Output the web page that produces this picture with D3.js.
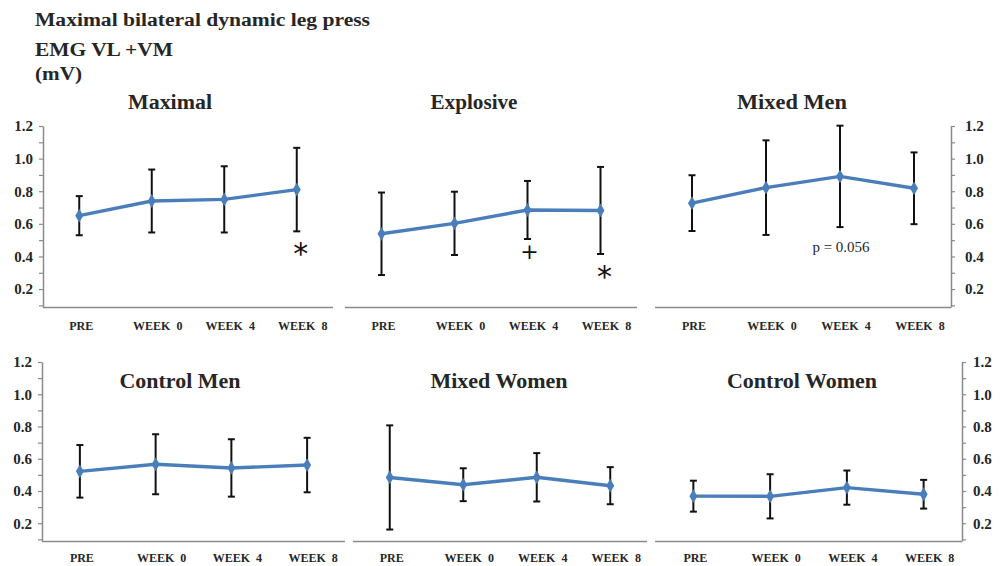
<!DOCTYPE html>
<html>
<head>
<meta charset="utf-8">
<script src="https://cdn.jsdelivr.net/npm/d3@7"></script>
<style>
  html, body { margin: 0; padding: 0; background: #fff; }
  svg { display: block; font-family: "Liberation Serif", "Times New Roman", serif; }
</style>
</head>
<body>
<svg id="chart" width="1000" height="566"></svg>
<script>
// ---------------- data ----------------
const categories = ["PRE", "WEEK  0", "WEEK  4", "WEEK  8"];
const headerLines = ["Maximal bilateral dynamic leg press", "EMG VL +VM", "(mV)"];
const panelTitles = ["Maximal", "Explosive", "Mixed Men", "Control Men", "Mixed Women", "Control Women"];
const yTickValues = [0.2, 0.4, 0.6, 0.8, 1.0, 1.2];
const yTickLabels = ["0.2", "0.4", "0.6", "0.8", "1.0", "1.2"];

const maximalMean = [0.65, 0.74, 0.75, 0.81];
const maximalSD = [0.12, 0.193, 0.203, 0.256];
const explosiveMean = [0.539, 0.603, 0.685, 0.682];
const explosiveSD = [0.253, 0.194, 0.178, 0.267];
const mixedMenMean = [0.727, 0.822, 0.891, 0.818];
const mixedMenSD = [0.171, 0.29, 0.311, 0.22];
const controlMenMean = [0.522, 0.566, 0.543, 0.561];
const controlMenSD = [0.163, 0.186, 0.178, 0.169];
const mixedWomenMean = [0.484, 0.439, 0.485, 0.433];
const mixedWomenSD = [0.323, 0.102, 0.15, 0.115];
const controlWomenMean = [0.368, 0.367, 0.421, 0.38];
const controlWomenSD = [0.096, 0.137, 0.106, 0.089];

// annotations: [panel index, category index, text]
const annotationPanels = [0, 1, 1, 2];
const annotationCats = [3, 2, 3, 2];
const annotationTexts = ["*", "+", "*", "p = 0.056"];

// ---------------- layout ----------------
const svg = d3.select("#chart");
const TXT = "#262626", AX = "#8a8a8a", BLUE = "#4a7ebb";

const rows = [
  { yTop: 126, yBot: 307, titleY: 109, labelY: 330 },
  { yTop: 362, yBot: 541, titleY: 388, labelY: 562 }
];
const panels = [
  { mean: maximalMean, sd: maximalSD, row: 0, x0: 43, x1: 333, axis: "left", axisX: 43, pad: 6, titleX: 170, titleW: 84 },
  { mean: explosiveMean, sd: explosiveSD, row: 0, x0: 345, x1: 637, axis: null, titleX: 474, titleW: 87 },
  { mean: mixedMenMean, sd: mixedMenSD, row: 0, x0: 655, x1: 951, axis: "right", axisX: 951, pad: 10, titleX: 792, titleW: 110 },
  { mean: controlMenMean, sd: controlMenSD, row: 1, x0: 42, x1: 345, axis: "left", axisX: 42, pad: 6, titleX: 180, titleW: 121 },
  { mean: mixedWomenMean, sd: mixedWomenSD, row: 1, x0: 353, x1: 647, axis: null, titleX: 499, titleW: 137 },
  { mean: controlWomenMean, sd: controlWomenSD, row: 1, x0: 655, x1: 962, axis: "right", axisX: 962, pad: 7, titleX: 802, titleW: 150 }
];

// header
const headerY = [26, 56, 80];
const headerW = [335, 138, 47];
headerLines.forEach((t, i) => {
  svg.append("text")
    .attr("x", 35).attr("y", headerY[i])
    .attr("font-size", 18).attr("font-weight", "bold").attr("fill", TXT)
    .attr("textLength", headerW[i]).attr("lengthAdjust", "spacingAndGlyphs")
    .text(t);
});

const minorTicks = d3.range(1, 13).map(d => d / 10);

panels.forEach((p, pi) => {
  const r = rows[p.row];
  const g = svg.append("g");
  const x = d3.scaleBand().domain(categories).range([p.x0, p.x1]);
  const cx = c => x(c) + x.bandwidth() / 2;
  const y = d3.scaleLinear().domain([0.09, 1.2]).range([r.yBot, r.yTop]);

  // y axis
  if (p.axis) {
    const ax = (p.axis === "left" ? d3.axisLeft(y) : d3.axisRight(y))
      .tickValues(minorTicks)
      .tickSize(4).tickSizeOuter(0).tickPadding(p.pad)
      .tickFormat(d => {
        const k = yTickValues.findIndex(v => Math.abs(v - d) < 1e-6);
        return k >= 0 ? yTickLabels[k] : "";
      });
    const ag = g.append("g").attr("transform", `translate(${p.axisX},0)`).call(ax);
    ag.attr("font-family", null);
    ag.select(".domain").attr("stroke", AX).attr("stroke-width", 1.5);
    ag.selectAll(".tick line").attr("stroke", AX).attr("stroke-width", 1.2);
    ag.selectAll(".tick text")
      .attr("fill", TXT).attr("font-size", 15).attr("font-weight", "bold");
  }

  // x axis line
  g.append("line")
    .attr("x1", p.x0).attr("x2", p.x1)
    .attr("y1", r.yBot + 0.5).attr("y2", r.yBot + 0.5)
    .attr("stroke", AX).attr("stroke-width", 1.6);

  // category labels
  g.selectAll("text.cat").data(categories).enter().append("text")
    .attr("class", "cat")
    .attr("x", d => cx(d) + (d === "PRE" ? 2 : 6))
    .attr("y", r.labelY)
    .attr("text-anchor", "middle")
    .attr("font-size", 12).attr("font-weight", "bold").attr("fill", TXT)
    .style("white-space", "pre")
    .text(d => d);

  // title
  g.append("text")
    .attr("x", p.titleX).attr("y", r.titleY)
    .attr("text-anchor", "middle")
    .attr("font-size", 20).attr("font-weight", "bold").attr("fill", TXT)
    .attr("textLength", p.titleW).attr("lengthAdjust", "spacingAndGlyphs")
    .text(panelTitles[pi]);

  const pts = categories.map((c, i) => ({ c, m: p.mean[i], s: p.sd[i] }));

  // error bars
  const eb = g.selectAll("g.eb").data(pts).enter().append("g").attr("class", "eb");
  eb.append("line")
    .attr("x1", d => cx(d.c)).attr("x2", d => cx(d.c))
    .attr("y1", d => y(d.m + d.s)).attr("y2", d => y(d.m - d.s))
    .attr("stroke", "#111").attr("stroke-width", 2);
  [1, -1].forEach(sgn => {
    eb.append("line")
      .attr("x1", d => cx(d.c) - 3.5).attr("x2", d => cx(d.c) + 3.5)
      .attr("y1", d => y(d.m + sgn * d.s)).attr("y2", d => y(d.m + sgn * d.s))
      .attr("stroke", "#111").attr("stroke-width", 2);
  });

  // line
  g.append("path").datum(pts)
    .attr("d", d3.line().x(d => cx(d.c)).y(d => y(d.m)))
    .attr("fill", "none").attr("stroke", BLUE).attr("stroke-width", 3.4);

  // markers
  g.selectAll("path.mk").data(pts).enter().append("path")
    .attr("class", "mk")
    .attr("d", d3.symbol().type(d3.symbolDiamond).size(55))
    .attr("transform", d => `translate(${cx(d.c)},${y(d.m)})`)
    .attr("fill", BLUE);

  // annotations
  annotationPanels.forEach((ap, k) => {
    if (ap !== pi) return;
    const d = pts[annotationCats[k]];
    const t = annotationTexts[k];
    const lowY = y(d.m - d.s);
    if (t === "*") {
      g.append("text").attr("x", cx(d.c) + 4).attr("y", lowY + 33)
        .attr("text-anchor", "middle").attr("font-size", 30).attr("fill", "#111")
        .attr("font-family", "DejaVu Sans, sans-serif").text(t);
    } else if (t === "+") {
      g.append("text").attr("x", cx(d.c) + 2).attr("y", lowY + 20)
        .attr("text-anchor", "middle").attr("font-size", 22).attr("fill", "#111")
        .attr("font-family", "DejaVu Sans, sans-serif").text(t);
    } else {
      g.append("text").attr("x", cx(d.c) + 1).attr("y", lowY + 25)
        .attr("text-anchor", "middle").attr("font-size", 15).attr("fill", TXT)
        .text(t);
    }
  });
});
</script>
</body>
</html>
